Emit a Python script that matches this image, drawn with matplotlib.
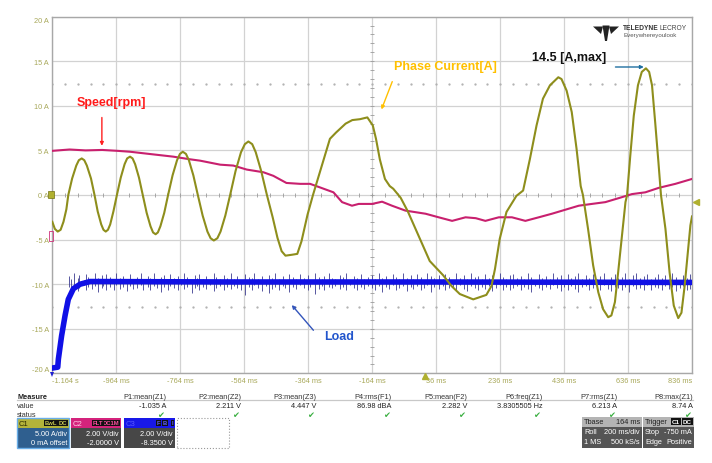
import numpy as np
import matplotlib.pyplot as plt
from matplotlib.patches import Rectangle, Polygon
from matplotlib.transforms import offset_copy

W, H = 712, 464

# ---- C1 phase current [A] (time in ms) ----
cur_t = [-1164, -1156, -1147, -1138, -1129, -1120, -1114,
         -1102, -1089, -1081, -1072, -1064, -1056, -1043, -1032,
         -1022, -1011, -1004, -997, -990, -983, -973, -962,
         -950, -938, -930, -921, -913, -905, -893, -881,
         -869, -857, -849, -841, -834, -826, -814, -802,
         -788, -774, -765, -756, -746, -737, -723, -709,
         -694, -679, -669, -659, -648, -638, -623, -608,
         -591, -574, -562, -551, -539, -528, -511, -493,
         -475, -460, -447, -435, -415, -398, -385, -366, -349,
         -327, -296, -277, -247, -226, -202, -179, -162, -152, -140, -124, -109, -98, -75,
         -53, -15, 16, 58, 84, 110, 152, 193, 209, 220, 235, 256, 287, 308,
         329, 350, 370, 392, 418, 428, 444, 460, 475, 488, 495,
         511, 527, 543, 558, 574, 584, 595, 605, 616, 628,
         633, 643, 654, 667, 679, 692, 702, 711, 721, 731, 739,
         753, 766, 779, 793, 803, 813, 824, 831, 836]
cur_a = [-3.0, -3.8, -4.1, -3.9, -3.0, -1.6, 0.0,
         1.85, 3.3, 3.9, 4.1, 3.9, 3.3, 1.85, 0.0,
         -1.85, -3.3, -3.9, -4.1, -3.9, -3.3, -1.85, 0.0,
         1.95, 3.45, 4.1, 4.3, 4.1, 3.45, 1.95, 0.0,
         -2.0, -3.5, -4.2, -4.4, -4.2, -3.5, -2.0, 0.0,
         2.2, 3.9, 4.6, 4.85, 4.6, 3.9, 2.2, 0.0,
         -2.3, -4.1, -4.85, -5.1, -4.85, -4.1, -2.3, 0.0,
         2.7, 4.8, 5.7, 6.0, 5.7, 4.8, 2.7, 0.0,
         -2.5, -4.8, -6.3, -6.8, -6.7, -6.6, -5.2, -2.2, 0.0,
         2.6, 6.3, 7.0, 8.0, 8.4, 8.5, 8.7, 7.8, 6.3, 4.0, 1.8, 1.0, 0.7, -0.3,
         -1.8, -4.9, -7.4, -9.0, -10.2, -11.1, -11.7, -11.2, -10.2, -8.3, -4.9, -1.9, -0.1, 0.5,
         4.0, 7.8, 10.8, 12.3, 13.2, 13.0, 11.7, 9.3, 5.2, 1.0, 0.0,
         -3.8, -7.9, -10.9, -12.8, -13.7, -13.5, -12.0, -8.7, -4.9, -0.8,
         0.0, 4.4, 8.9, 12.3, 13.8, 14.2, 13.8, 12.3, 8.1, 3.7, 0.0,
         -3.8, -8.7, -12.4, -13.8, -13.2, -10.2, -6.1, -3.4, -2.4]

# ---- C2 speed (shown on the same grid) ----
spd_t = [-1164, -1110, -1060, -1008, -960, -921, -860, -786, -733, -702,
         -639, -598, -556, -504, -473, -432, -389, -358, -327, -285,
         -258, -227, -206, -164, -133, -102, -60, 3, 44, 86,
         128, 160, 190, 232, 273, 315, 357, 398, 440, 482,
         523, 565, 607, 648, 690, 732, 784, 836]
spd_a = [4.95, 5.1, 5.0, 5.05, 4.95, 4.85, 4.6, 4.3, 4.0, 3.85,
         3.4, 3.3, 2.85, 2.55, 2.15, 1.35, 1.25, 1.25, 0.85, 0.3,
         -0.8, -1.2, -1.0, -1.0, -0.75, -1.2, -1.75, -2.1, -2.5, -2.9,
         -2.5, -2.6, -2.9, -2.5, -2.5, -2.9, -2.5, -2.1, -1.65, -1.2,
         -1.0, -0.8, -0.35, 0.1, 0.3, 0.8, 1.25, 1.8]

# ---- C3 load ----
load_t = [-1164, -1147, -1145, -1135, -1124, -1114, -1098, -1077, -1046, -600, 0, 836]
load_a = [-19.4, -19.3, -18.4, -15.8, -13.5, -11.7, -10.5, -10.0, -9.7, -9.75, -9.75, -9.8]

spike_t = [-1112, -1104, -1097, -1083, -1079, -1066, -1058, -1051, -1040, -1031,
           -1022, -1010, -1004, -997, -985, -971, -966, -952, -944, -930,
           -921, -913, -899, -888, -880, -866, -859, -845, -838, -824,
           -815, -803, -797, -784, -770, -762, -751, -742, -728, -719,
           -711, -705, -694, -683, -671, -660, -652, -641, -628, -617,
           -604, -596, -588, -575, -562, -548, -541, -533, -522, -508,
           -497, -488, -476, -469, -455, -443, -436, -424, -412, -401,
           -390, -378, -366, -357, -344, -331, -322, -313, -300, -288,
           -279, -266, -254, -246, -233, -221, -212, -199, -188, -177,
           -166, -155, -143, -134, -121, -110, -99, -88, -79, -66,
           -55, -43, -36, -24, -11, -2, 9, 21, 30, 44,
           56, 65, 77, 89, 98, 111, 123, 131, 145, 156,
           167, 178, 189, 201, 210, 223, 235, 244, 256, 268,
           277, 290, 301, 312, 324, 333, 346, 357, 368, 380,
           391, 402, 414, 425, 436, 447, 459, 470, 481, 493,
           504, 515, 526, 538, 549, 560, 572, 583, 594, 606,
           617, 628, 640, 651, 662, 673, 685, 696, 707, 719,
           730, 741, 752, 764, 775, 786, 797, 809, 820, 830]
spike_hi = [-9.1, -9.4, -8.8, -9.3, -9.0, -9.5, -8.9, -9.2, -9.4, -8.7,
            -9.3, -9.0, -9.5, -8.9, -9.2, -9.4, -8.8, -9.3, -9.1, -9.5,
            -8.9, -9.4, -9.2, -8.8, -9.5, -9.1, -9.3, -8.7, -9.4, -9.2,
            -9.0, -9.5, -8.9, -9.3, -9.1, -9.4, -8.8, -9.2, -9.5, -9.0,
            -9.3, -8.9, -9.4, -9.1, -9.5, -8.8, -9.2, -9.4, -9.0, -9.3,
            -8.8, -9.4, -9.1, -9.5, -8.9, -9.2, -9.3, -8.7, -9.4, -9.1,
            -9.5, -9.0, -9.3, -8.8, -9.4, -9.1, -9.5, -8.9, -9.2, -9.4,
            -8.9, -9.3, -9.0, -9.5, -8.8, -9.2, -9.4, -9.1, -8.7, -9.3,
            -9.4, -9.0, -9.2, -8.8, -9.5, -9.1, -9.3, -8.9, -9.4, -9.2,
            -9.0, -9.4, -8.8, -9.3, -9.1, -9.5, -8.9, -9.2, -9.4, -8.8,
            -9.3, -9.0, -9.4, -8.9, -9.2, -9.5, -8.8, -9.1, -9.3, -9.0,
            -9.4, -8.9, -9.2, -9.5, -8.8, -9.3, -9.0, -9.4, -8.7, -9.2,
            -9.1, -9.4, -8.9, -9.3, -9.0, -9.5, -8.8, -9.2, -9.4, -9.0,
            -8.9, -9.3, -9.1, -9.4, -8.8, -9.2, -9.5, -8.9, -9.3, -9.1,
            -9.4, -8.8, -9.2, -9.0, -9.5, -8.9, -9.3, -9.1, -8.7, -9.4,
            -9.0, -9.3, -8.9, -9.4, -9.1, -8.8, -9.5, -9.2, -8.9, -9.3,
            -9.2, -8.8, -9.4, -9.0, -8.7, -9.3, -9.1, -8.9, -9.4, -9.2,
            -8.9, -9.3, -9.0, -9.4, -8.8, -9.2, -9.5, -9.0, -9.3, -8.9]
spike_lo = [-10.3, -10.6, -10.2, -10.8, -10.4, -10.1, -10.7, -10.3, -10.5, -10.2,
            -10.9, -10.4, -10.2, -10.6, -10.3, -10.7, -10.1, -10.5, -10.3, -10.8,
            -10.2, -10.5, -10.4, -10.1, -10.7, -10.3, -10.6, -10.2, -10.4, -10.9,
            -10.3, -10.6, -10.2, -10.4, -10.7, -10.1, -10.5, -10.3, -11.0, -10.4,
            -10.2, -10.6, -10.3, -10.5, -10.1, -10.8, -10.4, -10.2, -10.6, -10.3,
            -10.5, -10.2, -10.4, -10.7, -11.2, -10.3, -10.6, -10.1, -10.4, -10.8,
            -10.2, -11.0, -10.5, -10.3, -10.6, -10.2, -10.4, -10.9, -10.3, -10.5,
            -10.1, -10.4, -10.7, -10.3, -11.1, -10.5, -10.2, -10.6, -10.3, -10.4,
            -10.2, -10.5, -10.3, -10.7, -10.1, -10.4, -10.6, -10.3, -10.5, -10.2,
            -10.4, -10.6, -10.2, -10.9, -10.3, -10.5, -10.1, -10.7, -10.4, -10.2,
            -10.8, -10.3, -10.5, -10.2, -10.6, -10.4, -10.1, -10.9, -10.3, -10.5,
            -10.2, -10.6, -10.4, -10.3, -10.7, -10.1, -10.5, -10.8, -10.2, -10.4,
            -10.6, -10.3, -10.5, -10.2, -10.8, -10.4, -10.1, -10.6, -10.3, -10.7,
            -10.4, -10.2, -10.6, -10.3, -10.5, -10.9, -10.2, -10.4, -10.7, -10.3,
            -10.5, -10.1, -10.4, -10.8, -10.3, -10.6, -10.2, -10.5, -10.9, -10.3,
            -10.2, -10.6, -10.4, -10.3, -10.7, -10.1, -10.5, -10.8, -10.3, -10.4,
            -10.6, -10.3, -10.9, -10.2, -10.5, -10.4, -10.7, -10.1, -10.6, -10.3,
            -10.4, -10.7, -10.2, -10.5, -10.3, -10.8, -10.4, -10.2, -10.6, -10.5]

x_ticks = [-1164, -964, -764, -564, -364, -164, 36, 236, 436, 636, 836]
x_labels = ['-1.164 s', '-964 ms', '-764 ms', '-564 ms', '-364 ms', '-164 ms',
            '36 ms', '236 ms', '436 ms', '636 ms', '836 ms']
y_ticks = [20, 15, 10, 5, 0, -5, -10, -15, -20]
y_labels = ['20 A', '15 A', '10 A', '5 A', '0 A', '-5 A', '-10 A', '-15 A', '-20 A']

meas_names = ['P1:mean(Z1)', 'P2:mean(Z2)', 'P3:mean(Z3)', 'P4:rms(F1)',
              'P5:mean(F2)', 'P6:freq(Z1)', 'P7:rms(Z1)', 'P8:max(Z1)']
meas_values = ['-1.035 A', '2.211 V', '4.447 V', '86.98 dBA',
               '2.282 V', '3.8305505 Hz', '6.213 A', '8.74 A']

OLIVE = '#8e8e1c'
TXT_OLIVE = '#a8a85a'
SANS = 'Liberation Sans'

fig = plt.figure(figsize=(W / 100, H / 100), dpi=100)


def fx(x):
    return x / W


def fy(y):
    return 1 - y / H


def box(x0, y0, x1, y1, fc, ec='none', lw=0.0, ls='-'):
    fig.add_artist(Rectangle((fx(x0), fy(y1)), (x1 - x0) / W, (y1 - y0) / H,
                             transform=fig.transFigure, fc=fc, ec=ec, lw=lw, ls=ls))


def ftext(x, y, s, **kw):
    kw.setdefault('fontsize', 5.3)
    kw.setdefault('family', SANS)
    kw.setdefault('va', 'center')
    fig.text(fx(x), fy(y), s, **kw)


ax = fig.add_axes([fx(52.3), fy(374.4), (692 - 52.3) / W, (374.4 - 17.6) / H])
ax.set_xlim(-1164, 836)
ax.set_ylim(-20, 20)
ax.set_xticks(x_ticks)
ax.set_xticklabels(x_labels, fontsize=5.3, color=TXT_OLIVE, family=SANS)
ax.set_yticks(y_ticks)
ax.set_yticklabels(y_labels, fontsize=5.3, color=TXT_OLIVE, family=SANS)
ax.tick_params(length=0, pad=2.5)
xl = ax.get_xticklabels()
xl[0].set_ha('left')
xl[-1].set_ha('right')
yl = ax.get_yticklabels()
yl[0].set_va('top')
yl[-1].set_va('bottom')
ax.grid(True, color='#d2d2d2', lw=0.9)
for sp in ax.spines.values():
    sp.set_color('#a8a8a8')
    sp.set_linewidth(1.0)
ax.set_axisbelow(True)

# centre-axis minor ticks and dotted rows
tt = np.arange(-1164, 837, 40)
ax.plot(tt, np.zeros_like(tt), ls='none', marker='|', ms=3, mew=0.6, color='#9a9a9a', zorder=1)
yy = np.arange(-20, 21, 1.0)
ax.plot(np.full_like(yy, -164.0), yy, ls='none', marker='_', ms=3, mew=0.6, color='#9a9a9a', zorder=1)
ax.plot(tt, np.full(len(tt), 12.5), ls='none', marker='.', ms=1.3, color='#b0b0b0', zorder=1)
ax.plot(tt, np.full(len(tt), -12.5), ls='none', marker='.', ms=1.3, color='#b0b0b0', zorder=1)

# traces
ax.vlines(spike_t, spike_lo, spike_hi, color='#3c3c90', lw=0.6, zorder=2)
ax.plot(load_t, load_a, color='#1010e6', lw=4.0, zorder=3)
ax.plot(spd_t, spd_a, color='#c8206e', lw=1.5, zorder=4)
ax.plot(cur_t, cur_a, color=OLIVE, lw=1.5, zorder=5)

# trigger markers
tr_b = offset_copy(ax.transData, fig=fig, x=0, y=-3, units='dots')
ax.plot([0], [-20], marker='^', ms=4, color='#b0b030', clip_on=False, transform=tr_b, zorder=6)
tr_r = offset_copy(ax.transData, fig=fig, x=4, y=0, units='dots')
ax.plot([836], [-0.75], marker='<', ms=4, color='#b0b030', clip_on=False, transform=tr_r, zorder=6)

# annotations
ann = dict(family='Liberation Sans', fontweight='bold', fontsize=9)
ax.text(-980, 10.4, 'Speed[rpm]', color='#ff1a1a', ha='center', va='center', zorder=7, **ann)
ax.annotate('', xy=(-1009, 5.2), xytext=(-1009, 9.0),
            arrowprops=dict(arrowstyle='-|>', color='#ff2020', lw=1.0, mutation_scale=5), zorder=7)
ax.text(65, 14.5, 'Phase Current[A]', color='#ffc000', ha='center', va='center', zorder=7, **ann)
ax.annotate('', xy=(-138, 9.3), xytext=(-98, 13.0),
            arrowprops=dict(arrowstyle='-|>', color='#ffc000', lw=1.0, mutation_scale=5), zorder=7)
ax.text(451, 15.5, '14.5 [A,max]', color='#111111', ha='center', va='center', zorder=7, **ann)
ax.annotate('', xy=(694, 14.35), xytext=(588, 14.35),
            arrowprops=dict(arrowstyle='-|>', color='#1f6fa0', lw=1.0, mutation_scale=5), zorder=7)
ax.text(-266, -15.8, 'Load', color='#2255cc', ha='center', va='center', zorder=7, **ann)
ax.annotate('', xy=(-421, -12.1), xytext=(-342, -15.4),
            arrowprops=dict(arrowstyle='-|>', color='#3355bb', lw=1.0, mutation_scale=5), zorder=7)

# channel markers on left edge
box(48, 192, 54, 199, '#b0b030', ec='#707010', lw=0.5)
box(48.5, 232, 52.5, 242, 'none', ec='#d0307a', lw=0.6)
fig.add_artist(Polygon([(fx(50), fy(373)), (fx(54), fy(373)), (fx(52), fy(378))],
                       closed=True, transform=fig.transFigure, fc='#2020d0', ec='none'))

# logo
for pts in [[(593, 27.5), (603, 27.5), (601, 35)],
            [(609, 27.5), (619, 27.5), (611, 35)],
            [(602.5, 26.5), (609.5, 26.5), (607, 42), (605, 42)]]:
    fig.add_artist(Polygon([(fx(a), fy(b)) for a, b in pts], closed=True,
                           transform=fig.transFigure, fc='#222222', ec='none'))
ftext(623, 28.5, 'TELEDYNE', fontsize=4.8, fontweight='bold', color='#333333')
ftext(660, 28.5, 'LECROY', fontsize=4.8, color='#444444')
ftext(623, 35.5, 'Everywhereyoulook', fontsize=4.4, color='#555555')

# ---- measurement table ----
ftext(17, 397.3, 'Measure', fontweight='bold', color='#222222')
ftext(17, 406.3, 'value', color='#333333')
ftext(17, 416, 'status', color='#333333')
fig.add_artist(plt.Line2D([fx(17), fx(693)], [fy(400.8), fy(400.8)], transform=fig.transFigure,
                          color='#c8c8c8', lw=0.9))
for i, (nm, val) in enumerate(zip(meas_names, meas_values)):
    xr = 166 + 75.25 * i
    ftext(xr, 397.3, nm, ha='right', color='#333333')
    ftext(xr, 406.3, val, ha='right', color='#222222')
    ftext(xr - 2, 415.5, '\u2714', ha='right', color='#3cb043', family='DejaVu Sans', fontsize=6)

# channel boxes
ch_boxes = [
    (17, 69, '#b3b33a', '#2f5f8f', 'C1', '#2a2a00', ['BwL', 'DC'], '#c8c850', ['5.00 A/div', '0 mA offset']),
    (71, 121, '#d4237c', '#474747', 'C2', '#ffd0e8', ['FLT', 'DC1M'], '#ff4fa0', ['2.00 V/div', '-2.0000 V']),
    (124, 175, '#1818e8', '#474747', 'C3', '#5a5aff', ['F', 'B', 'I'], '#6060ff', ['2.00 V/div', '-8.3500 V']),
]
for x0, x1, hc, bc, lab, lc, tags, tc, lines in ch_boxes:
    box(x0, 419, x1, 428.5, hc)
    box(x0, 428.5, x1, 448.5, bc)
    ftext(x0 + 2, 424, lab, color=lc, fontsize=5.5)
    xr = x1 - 2
    for tg in reversed(tags):
        ftext(xr, 423.8, tg, ha='right', color=tc, fontsize=4.2, fontweight='bold',
              bbox=dict(boxstyle='square,pad=0.12', fc='#111111', ec='none'))
        xr -= 3.2 * len(tg) + 3
    ftext(x1 - 2, 434.5, lines[0], ha='right', color='white')
    ftext(x1 - 2, 443.5, lines[1], ha='right', color='white')
box(17, 419, 69, 448.5, 'none', ec='#6aaee8', lw=1.0)
box(177, 419, 229, 448.5, 'none', ec='#999999', lw=0.8, ls=':')

# timebase / trigger boxes
for x0, x1 in [(582, 642), (643, 694)]:
    box(x0, 417.5, x1, 427.5, '#b4b4b4')
    box(x0, 427.5, x1, 449, '#555555')
ftext(584, 422.5, 'Tbase', color='#222222')
ftext(640, 422.5, '164 ms', ha='right', color='#222222')
ftext(584, 433, 'Roll', color='white')
ftext(640, 433, '200 ms/div', ha='right', color='white')
ftext(584, 443, '1 MS', color='white')
ftext(640, 443, '500 kS/s', ha='right', color='white')
ftext(645, 422.5, 'Trigger', color='#222222')
ftext(680, 422.5, 'C1', ha='right', color='white', fontsize=4.5, fontweight='bold',
      bbox=dict(boxstyle='square,pad=0.12', fc='#111111', ec='none'))
ftext(692, 422.5, 'DC', ha='right', color='white', fontsize=4.5, fontweight='bold',
      bbox=dict(boxstyle='square,pad=0.12', fc='#111111', ec='none'))
ftext(645, 433, 'Stop', color='white')
ftext(692, 433, '-750 mA', ha='right', color='white')
ftext(645, 443, 'Edge', color='white')
ftext(692, 443, 'Positive', ha='right', color='white')

fig.savefig('out.png', dpi=100, facecolor='white')
